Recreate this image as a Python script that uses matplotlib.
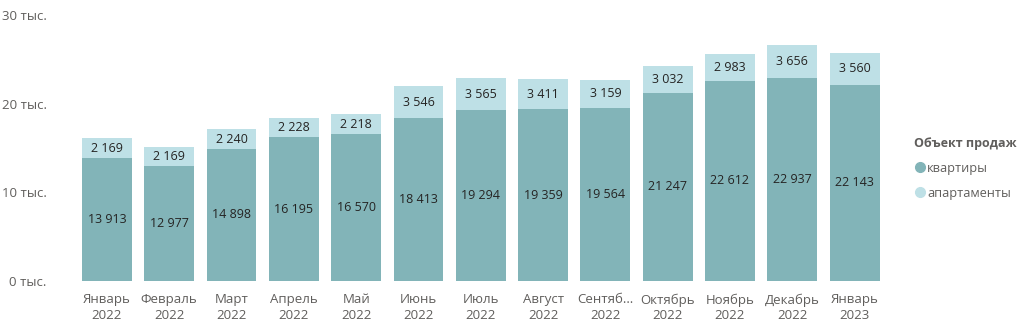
import matplotlib
matplotlib.use("Agg")
import matplotlib.pyplot as plt
from matplotlib.lines import Line2D
from matplotlib.ticker import FixedLocator, FuncFormatter

months = ["Январь\n2022", "Февраль\n2022", "Март\n2022", "Апрель\n2022", "Май\n2022",
          "Июнь\n2022", "Июль\n2022", "Август\n2022", "Сентяб…\n2022", "Октябрь\n2022",
          "Ноябрь\n2022", "Декабрь\n2022", "Январь\n2023"]
flats = [13913, 12977, 14898, 16195, 16570, 18413, 19294, 19359, 19564, 21247, 22612, 22937, 22143]
apartments = [2169, 2169, 2240, 2228, 2218, 3546, 3565, 3411, 3159, 3032, 2983, 3656, 3560]
series_names = ["квартиры", "апартаменты"]
legend_title = "Объект продаж"

c_dark = "#82B4B8"
c_light = "#BEE0E6"
c_tick = "#605E5C"
c_lab = "#252423"

plt.rcParams['font.family'] = ['Open Sans', 'DejaVu Sans']

fig = plt.figure(figsize=(10.24, 3.29), dpi=100)
ax = fig.add_axes([0.074, 0.146, 0.791, 0.808])

x = list(range(len(months)))
w = 0.8
ax.bar(x, flats, width=w, color=c_dark, label=series_names[0])
ax.bar(x, apartments, width=w, bottom=flats, color=c_light, label=series_names[1])

def fmt(v):
    return f"{v:,}".replace(",", " ")

for i in x:
    ax.text(i, flats[i] / 2, fmt(flats[i]), ha="center", va="center", fontsize=9, color=c_lab)
    ax.text(i, flats[i] + apartments[i] / 2, fmt(apartments[i]), ha="center", va="center",
            fontsize=9, color=c_lab)

ax.set_xlim(-0.5, len(months) - 0.5)
ax.set_ylim(0, 30000)
ax.yaxis.set_major_locator(FixedLocator([0, 10000, 20000, 30000]))
ax.yaxis.set_major_formatter(FuncFormatter(lambda v, p: f"{int(v/1000)} тыс."))
ax.set_xticks(x)
ax.set_xticklabels(months, fontsize=9.5, color=c_tick, linespacing=1.25)
for lab in ax.get_yticklabels():
    lab.set_fontsize(9.5)
    lab.set_color(c_tick)
ax.tick_params(axis="both", length=0)
ax.tick_params(axis="y", pad=21)
ax.tick_params(axis="x", pad=9)
for s in ax.spines.values():
    s.set_visible(False)

handles = [Line2D([], [], marker="o", linestyle="", markersize=7, color=c_dark),
           Line2D([], [], marker="o", linestyle="", markersize=7, color=c_light)]
leg = fig.legend(handles, series_names, loc="upper left", bbox_to_anchor=(0.893, 0.585),
                 frameon=False, title=legend_title, handletextpad=0.1, handlelength=0.9,
                 labelspacing=0.95, fontsize=9.2, title_fontsize=9, alignment="left",
                 borderaxespad=0, borderpad=0)
leg.get_title().set_fontweight("bold")
leg.get_title().set_color(c_tick)
for t in leg.get_texts():
    t.set_color(c_tick)

fig.savefig("out.png", dpi=100)
